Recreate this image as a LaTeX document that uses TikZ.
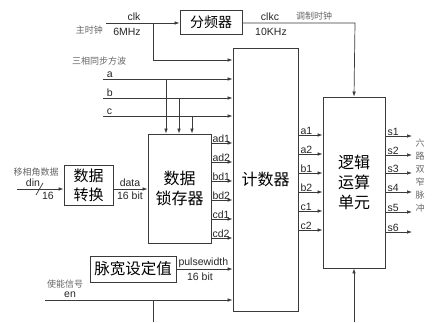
\documentclass[tikz,border=0pt]{standalone}
\usepackage{fontspec}
\setmainfont{Liberation Sans}
\newfontfamily\cjk{Noto Sans CJK SC}
\usetikzlibrary{arrows.meta}
\definecolor{linec}{HTML}{3A3A3A}
\begin{document}
\begin{tikzpicture}[x=1pt,y=-1pt,
  box/.style={draw=linec, line width=0.8pt, inner sep=0pt, align=center, font=\cjk\fontsize{15}{19}\selectfont},
  arr/.style={draw=linec, line width=0.7pt, -{Latex[length=5pt,width=3.6pt]}},
  ln/.style={draw=linec, line width=0.7pt},
  lab/.style={font=\fontsize{10.5}{11}\selectfont, inner sep=0.6pt, text=black!85},
  cn/.style={font=\cjk\fontsize{9}{10}\selectfont, text=black!60, inner sep=0pt}]
\useasboundingbox (0,0) rectangle (446,322);
% boxes
\node[box, minimum width=62pt, minimum height=24pt, font=\cjk\fontsize{14}{16}\selectfont] (div) at (211,22) {分频器};
\node[box, minimum width=65pt, minimum height=263pt, font=\cjk\fontsize{16}{19}\selectfont] (cnt) at (265.5,179.5) {计数器};
\node[box, minimum width=62pt, minimum height=171pt, font=\cjk\fontsize{16}{20}\selectfont] (logic) at (354,182.5) {逻辑\\运算\\单元};
\node[box, minimum width=63pt, minimum height=109pt, font=\cjk\fontsize{16}{20}\selectfont] (latch) at (179.5,188.5) {数据\\锁存器};
\node[box, minimum width=49pt, minimum height=40pt, font=\cjk\fontsize{15}{19}\selectfont] (conv) at (88.5,185) {数据\\转换};
\node[box, minimum width=86pt, minimum height=26pt, font=\cjk\fontsize{15.5}{18}\selectfont] (pw) at (133,269) {脉宽设定值};
% free ends
\coordinate (clkin) at (106,23);
\coordinate (clkbr) at (153,23);
\coordinate (clkc) at (355,23);
\coordinate (ain) at (103,79);
\coordinate (bin) at (103,98);
\coordinate (cin) at (103,116);
\coordinate (dinin) at (17,189);
\coordinate (enin) at (45,300);
\coordinate (enbr) at (153,300);
\coordinate (enbot) at (153,322);
\coordinate (lbot) at (354,322);
% clock
\draw[arr] (clkin) -- (div.west |- clkin);
\draw[arr] (clkbr) |- (cnt.west |- 0,60);
\draw[arr] (div.east |- clkc) -- (clkc) -- (logic.north);
\node[lab, anchor=south] (tclk) at (134,21) {clk};
\node[lab, anchor=north] (t6m) at (127,27) {6MHz};
\node[cn, anchor=east] (tzhu) at (103,30) {主时钟};
\node[lab, anchor=south] (tclkc) at (270,21) {clkc};
\node[lab, anchor=north] (t10k) at (271,27) {10KHz};
\node[cn, anchor=south west] (ttz) at (296,20) {调制时钟};
\node[cn, anchor=west] (tsan) at (72,61) {三相同步方波};
% a b c
\draw[arr] (ain) -- (cnt.west |- ain);
\draw[arr] (bin) -- (cnt.west |- bin);
\draw[arr] (cin) -- (cnt.west |- cin);
\draw[arr] (166,79) -- (latch.north -| 166,0);
\draw[arr] (179,98) -- (latch.north -| 179,0);
\draw[arr] (192,116) -- (latch.north -| 192,0);
\node[lab, anchor=south west] (ta) at (106,78) {a};
\node[lab, anchor=south west] (tb) at (106,97) {b};
\node[lab, anchor=south west] (tc) at (106,115) {c};
% din / data
\draw[arr] (dinin) -- (conv.west |- dinin);
\draw[ln] (36,195) -- (43,183);
\node[cn, anchor=south] (tyi) at (36,176) {移相角数据};
\node[lab, anchor=south] (tdin) at (33,187) {din};
\node[lab, anchor=north] (t16) at (48,191) {16};
\draw[arr] (conv.east |- 0,189) -- (latch.west |- 0,189);
\node[lab, anchor=south] (tdata) at (130,187) {data};
\node[lab, anchor=north] (t16b) at (130,191) {16 bit};
% latch outputs
\foreach \n/\yy in {ad1/143,ad2/162,bd1/181,bd2/200,cd1/219,cd2/238}{
  \draw[arr] (latch.east |- 0,\yy) -- (cnt.west |- 0,\yy);
  \node[lab, anchor=south west, inner sep=0.3pt] (t\n) at (212,\yy) {\n};
}
% counter outputs
\foreach \n/\yy in {a1/135,a2/154,b1/173,b2/192,c1/211,c2/230}{
  \draw[arr] (cnt.east |- 0,\yy) -- (logic.west |- 0,\yy);
  \node[lab, anchor=south west, inner sep=0.3pt] (t\n) at (300,\yy) {\n};
}
% logic outputs
\foreach \n/\yy in {s1/136,s2/155,s3/173,s4/192,s5/212,s6/232}{
  \coordinate (o\n) at (412,\yy);
  \draw[arr] (logic.east |- 0,\yy) -- (o\n);
  \node[lab, anchor=south west, inner sep=0.3pt] (t\n) at (387,\yy) {\n};
}
\node[cn, align=center, font=\cjk\fontsize{9}{13}\selectfont] (tliu) at (420,176) {六\\路\\双\\窄\\脉\\冲};
% pulse width / enable
\draw[arr] (pw.east) -- (cnt.west |- pw.east);
\node[lab, anchor=south west, inner sep=0.3pt] (tpw) at (178,268) {pulsewidth};
\node[lab, anchor=north] (t16c) at (200,272) {16 bit};
\draw[arr] (enin) -- (cnt.west |- enin);
\draw[ln] (enbr) -- (enbot);
\node[cn, anchor=south] (tshi) at (65,288) {使能信号};
\node[lab, anchor=south] (ten) at (70,298) {en};
\draw[arr] (lbot) -- (logic.south);
\end{tikzpicture}
\end{document}
